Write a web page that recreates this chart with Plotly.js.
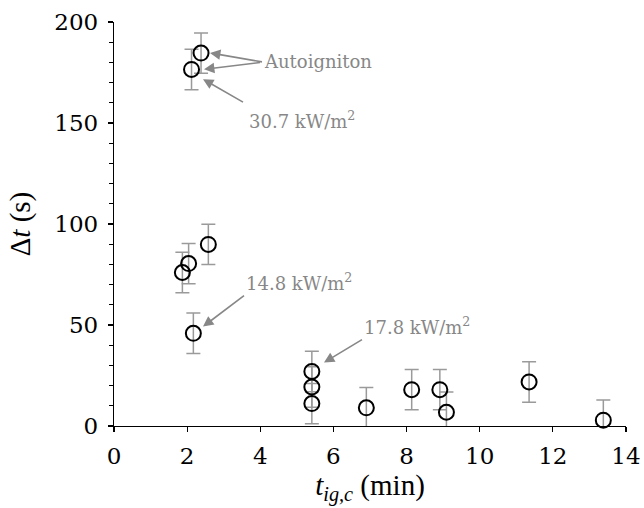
<!DOCTYPE html>
<html>
<head>
<meta charset="utf-8">
<script src="https://cdn.plot.ly/plotly-3.0.1.min.js"></script>
<style>html,body{margin:0;padding:0;background:#fff;}#chart{width:644px;height:508px;}</style>
</head>
<body>
<div id="chart"></div>
<script>
// Data
const tig = [2.38, 2.12, 2.58, 2.04, 1.87, 2.17, 5.41, 5.41, 5.41, 6.90, 8.14, 8.91, 9.09, 11.35, 13.38];
const dt  = [184.6, 176.5, 89.9, 80.4, 76.0, 45.9, 27.0, 19.3, 11.1, 9.0, 18.0, 18.0, 6.8, 21.8, 2.9];
const dtErr = [10, 10, 10, 10, 10, 10, 10, 10, 10, 10, 10, 10, 10, 10, 10];
const xTicks = [0, 2, 4, 6, 8, 10, 12, 14];
const yTicks = [0, 50, 100, 150, 200];

// arrow annotations: label text, arrow tip (data), tail offset (px), text anchor at tail
const annText = ["Autoigniton", " ", "30.7 kW/m<sup>2</sup>", "14.8 kW/m<sup>2</sup>", "17.8 kW/m<sup>2</sup>"];
const tipX = [2.625, 2.461, 2.434, 2.434, 5.742];
const tipY = [184.7, 176.6, 171.7, 49.2, 31.4];
const tailAx = [52, 58, 40, 41, 38];
const tailAy = [9, -7, 23, -31, -23];
const annYAnchor = ['middle', 'middle', 'top', 'bottom', 'bottom'];
const annPad = [1, 1, 5, 1, 1];

const gray = '#878787';
const annotations = annText.map((t, i) => ({
  x: tipX[i], y: tipY[i], xref: 'x', yref: 'y', text: t, showarrow: true,
  ax: tailAx[i], ay: tailAy[i],
  xanchor: t === ' ' ? 'center' : 'left', yanchor: annYAnchor[i],
  arrowhead: 2, arrowsize: 1.3, arrowwidth: 1.6, arrowcolor: gray,
  standoff: 0, startstandoff: 0, borderpad: annPad[i],
  font: {family: 'DejaVu Serif', size: t === ' ' ? 2 : 18, color: gray}
}));

const trace = {
  x: tig, y: dt, type: 'scatter', mode: 'markers',
  error_y: {type: 'data', array: dtErr, visible: true, color: '#9a9a9a', thickness: 1.5, width: 7},
  marker: {symbol: 'circle-open', size: 15, color: '#000', line: {width: 2, color: '#000'}},
  cliponaxis: false, hoverinfo: 'none'
};

const layout = {
  width: 644, height: 508,
  margin: {l: 114, r: 18, t: 22, b: 82},
  paper_bgcolor: '#fff', plot_bgcolor: '#fff',
  showlegend: false,
  font: {family: 'DejaVu Serif', color: '#000'},
  xaxis: {
    range: [0, 14], tickvals: xTicks, ticktext: xTicks.map(String),
    showgrid: false, zeroline: false, showline: true, linecolor: '#000', linewidth: 1.2,
    ticks: 'outside', ticklen: 5, tickcolor: '#000', tickwidth: 1.2,
    ticklabelposition: 'outside', ticklabelstandoff: 4,
    tickfont: {family: 'DejaVu Serif', size: 23, color: '#000'},
    title: {text: '<i>t</i><sub><i>ig,c</i></sub> (min)', font: {family: 'Liberation Serif', size: 29, color: '#000'}, standoff: 6}
  },
  yaxis: {
    range: [0, 200], tickvals: yTicks, ticktext: yTicks.map(String),
    showgrid: false, zeroline: false, showline: true, linecolor: '#000', linewidth: 1.2,
    ticks: 'outside', ticklen: 5, tickcolor: '#000', tickwidth: 1.2,
    ticklabelposition: 'outside', ticklabelstandoff: 5,
    minor: {dtick: 10, ticks: 'outside', ticklen: 4, tickcolor: '#000', tickwidth: 1, showgrid: false},
    tickfont: {family: 'DejaVu Serif', size: 23, color: '#000'},
    title: {text: 'Δ<i>t</i> (s)', font: {family: 'Liberation Serif', size: 29, color: '#000'}, standoff: 15}
  },
  annotations: annotations
};

Plotly.newPlot('chart', [trace], layout, {staticPlot: true, displayModeBar: false});
</script>
</body>
</html>
